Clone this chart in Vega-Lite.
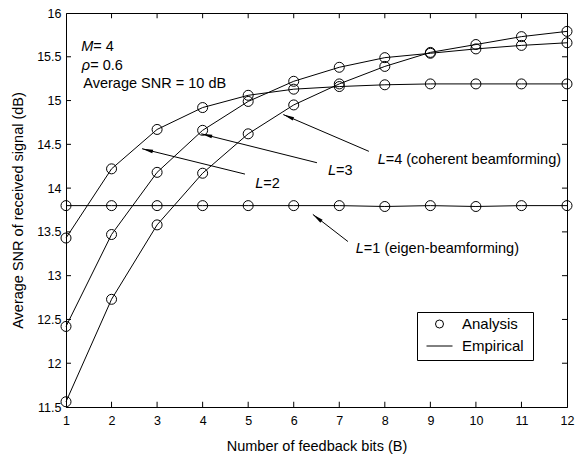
{
  "$schema": "https://vega.github.io/schema/vega-lite/v6.json",
  "autosize": "none",
  "width": 501,
  "height": 394,
  "padding": {"left": 66, "top": 13, "right": 9, "bottom": 49},
  "background": "white",
  "config": {
    "view": {"stroke": "black", "strokeWidth": 1},
    "font": "Liberation Sans",
    "axis": {"domainColor": "black", "tickColor": "black", "labelColor": "black", "titleColor": "black", "grid": false, "labelFont": "Liberation Sans", "titleFont": "Liberation Sans", "labelFontSize": 12.5, "titleFontSize": 14.5, "titleFontWeight": "normal"},
    "legend": {"labelFont": "Liberation Sans", "labelFontSize": 15, "labelColor": "black"}
  },
  "datasets": {
    "snr": [
      {"L": 1, "B": 1, "snr": 13.80}, {"L": 1, "B": 2, "snr": 13.80}, {"L": 1, "B": 3, "snr": 13.80}, {"L": 1, "B": 4, "snr": 13.80}, {"L": 1, "B": 5, "snr": 13.80}, {"L": 1, "B": 6, "snr": 13.80}, {"L": 1, "B": 7, "snr": 13.80}, {"L": 1, "B": 8, "snr": 13.79}, {"L": 1, "B": 9, "snr": 13.80}, {"L": 1, "B": 10, "snr": 13.79}, {"L": 1, "B": 11, "snr": 13.80}, {"L": 1, "B": 12, "snr": 13.80},
      {"L": 2, "B": 1, "snr": 13.43}, {"L": 2, "B": 2, "snr": 14.22}, {"L": 2, "B": 3, "snr": 14.67}, {"L": 2, "B": 4, "snr": 14.92}, {"L": 2, "B": 5, "snr": 15.06}, {"L": 2, "B": 6, "snr": 15.13}, {"L": 2, "B": 7, "snr": 15.16}, {"L": 2, "B": 8, "snr": 15.18}, {"L": 2, "B": 9, "snr": 15.19}, {"L": 2, "B": 10, "snr": 15.19}, {"L": 2, "B": 11, "snr": 15.19}, {"L": 2, "B": 12, "snr": 15.19},
      {"L": 3, "B": 1, "snr": 12.42}, {"L": 3, "B": 2, "snr": 13.47}, {"L": 3, "B": 3, "snr": 14.18}, {"L": 3, "B": 4, "snr": 14.66}, {"L": 3, "B": 5, "snr": 14.99}, {"L": 3, "B": 6, "snr": 15.22}, {"L": 3, "B": 7, "snr": 15.38}, {"L": 3, "B": 8, "snr": 15.49}, {"L": 3, "B": 9, "snr": 15.54}, {"L": 3, "B": 10, "snr": 15.59}, {"L": 3, "B": 11, "snr": 15.63}, {"L": 3, "B": 12, "snr": 15.66},
      {"L": 4, "B": 1, "snr": 11.56}, {"L": 4, "B": 2, "snr": 12.73}, {"L": 4, "B": 3, "snr": 13.58}, {"L": 4, "B": 4, "snr": 14.17}, {"L": 4, "B": 5, "snr": 14.62}, {"L": 4, "B": 6, "snr": 14.95}, {"L": 4, "B": 7, "snr": 15.19}, {"L": 4, "B": 8, "snr": 15.39}, {"L": 4, "B": 9, "snr": 15.55}, {"L": 4, "B": 10, "snr": 15.64}, {"L": 4, "B": 11, "snr": 15.73}, {"L": 4, "B": 12, "snr": 15.79}
    ],
    "xticks": [{"B": 2}, {"B": 3}, {"B": 4}, {"B": 5}, {"B": 6}, {"B": 7}, {"B": 8}, {"B": 9}, {"B": 10}, {"B": 11}],
    "yticks": [{"v": 12}, {"v": 12.5}, {"v": 13}, {"v": 13.5}, {"v": 14}, {"v": 14.5}, {"v": 15}, {"v": 15.5}],
    "arrows": [
      {"x": 4.93, "y": 14.16, "x2": 2.67, "y2": 14.45, "angle": -75.8},
      {"x": 6.51, "y": 14.29, "x2": 3.97, "y2": 14.62, "angle": -76.0},
      {"x": 7.65, "y": 14.42, "x2": 5.77, "y2": 14.84, "angle": -66.9},
      {"x": 7.19, "y": 13.39, "x2": 6.42, "y2": 13.70, "angle": -51.6}
    ],
    "labels": [
      {"it": "L", "rest": "=2", "x": 5.33, "y": 14.05},
      {"it": "L", "rest": "=3", "x": 6.93, "y": 14.20},
      {"it": "L", "rest": "=4 (coherent beamforming)", "x": 8.02, "y": 14.32},
      {"it": "L", "rest": "=1 (eigen-beamforming)", "x": 7.54, "y": 13.30},
      {"it": "M", "rest": "\u00a0\u00a0= 4", "x": 1.60, "y": 15.61},
      {"it": "\u03c1", "rest": "\u00a0= 0.6", "x": 1.53, "y": 15.39},
      {"it": "", "rest": "Average SNR = 10 dB", "x": 1.38, "y": 15.19}
    ]
  },
  "layer": [
    {
      "data": {"name": "snr"},
      "mark": {"type": "line", "color": "black", "strokeWidth": 1},
      "encoding": {
        "x": {"field": "B", "type": "quantitative", "scale": {"domain": [1, 12], "nice": false, "zero": false},
          "axis": {"orient": "bottom", "values": [1,2,3,4,5,6,7,8,9,10,11,12], "ticks": false, "labelPadding": 7, "title": "Number of feedback bits (B)", "titlePadding": 13, "labelFlush": false}},
        "y": {"field": "snr", "type": "quantitative", "scale": {"domain": [11.5, 16], "nice": false, "zero": false},
          "axis": {"orient": "left", "values": [11.5,12,12.5,13,13.5,14,14.5,15,15.5,16], "format": ".1~f", "ticks": false, "labelPadding": 5, "title": "Average SNR of received signal (dB)", "titlePadding": 11, "labelFlush": false}},
        "detail": {"field": "L", "type": "nominal"}
      }
    },
    {
      "data": {"name": "snr"},
      "transform": [{"calculate": "'Analysis'", "as": "type"}],
      "mark": {"type": "point", "filled": false, "stroke": "black", "strokeWidth": 1, "size": 100, "opacity": 1},
      "encoding": {
        "x": {"field": "B", "type": "quantitative"},
        "y": {"field": "snr", "type": "quantitative"},
        "shape": {"field": "type", "type": "nominal",
          "scale": {"domain": ["Analysis", "Empirical"], "range": ["circle", "M-3.25,0L3.25,0"]},
          "legend": {"title": "\u00a0", "titleOrient": "right", "titleFontSize": 12, "titlePadding": 3, "orient": "none", "legendX": 351, "legendY": 299, "strokeColor": "black", "fillColor": "white", "padding": 6, "clipHeight": 12, "symbolOffset": 9, "symbolStrokeColor": "black", "symbolFillColor": "transparent", "symbolStrokeWidth": 1, "labelOffset": 15, "rowPadding": 7, "symbolSize": 64}}
      }
    },
    {
      "data": {"name": "xticks"},
      "mark": {"type": "rule", "color": "black", "strokeWidth": 1},
      "encoding": {"x": {"field": "B", "type": "quantitative"}, "y": {"datum": 16}, "y2": {"datum": 15.94}}
    },
    {
      "data": {"name": "xticks"},
      "mark": {"type": "rule", "color": "black", "strokeWidth": 1},
      "encoding": {"x": {"field": "B", "type": "quantitative"}, "y": {"datum": 11.5}, "y2": {"datum": 11.56}}
    },
    {
      "data": {"name": "yticks"},
      "mark": {"type": "rule", "color": "black", "strokeWidth": 1},
      "encoding": {"y": {"field": "v", "type": "quantitative"}, "x": {"datum": 1}, "x2": {"datum": 1.11}}
    },
    {
      "data": {"name": "yticks"},
      "mark": {"type": "rule", "color": "black", "strokeWidth": 1},
      "encoding": {"y": {"field": "v", "type": "quantitative"}, "x": {"datum": 12}, "x2": {"datum": 11.89}}
    },
    {
      "data": {"name": "arrows"},
      "mark": {"type": "rule", "color": "black", "strokeWidth": 1},
      "encoding": {
        "x": {"field": "x", "type": "quantitative"},
        "y": {"field": "y", "type": "quantitative"},
        "x2": {"field": "x2"},
        "y2": {"field": "y2"}
      }
    },
    {
      "data": {"name": "arrows"},
      "mark": {"type": "point", "shape": "M0,0L0.33,2L-0.33,2Z", "filled": true, "color": "black", "size": 121, "opacity": 1},
      "encoding": {
        "x": {"field": "x2", "type": "quantitative"},
        "y": {"field": "y2", "type": "quantitative"},
        "angle": {"field": "angle", "type": "quantitative", "scale": null}
      }
    },
    {
      "data": {"name": "labels"},
      "mark": {"type": "text", "align": "right", "baseline": "middle", "fontStyle": "italic", "fontSize": 14.5, "color": "black"},
      "encoding": {
        "x": {"field": "x", "type": "quantitative"},
        "y": {"field": "y", "type": "quantitative"},
        "text": {"field": "it"}
      }
    },
    {
      "data": {"name": "labels"},
      "mark": {"type": "text", "align": "left", "baseline": "middle", "fontSize": 14.5, "color": "black"},
      "encoding": {
        "x": {"field": "x", "type": "quantitative"},
        "y": {"field": "y", "type": "quantitative"},
        "text": {"field": "rest"}
      }
    }
  ]
}
